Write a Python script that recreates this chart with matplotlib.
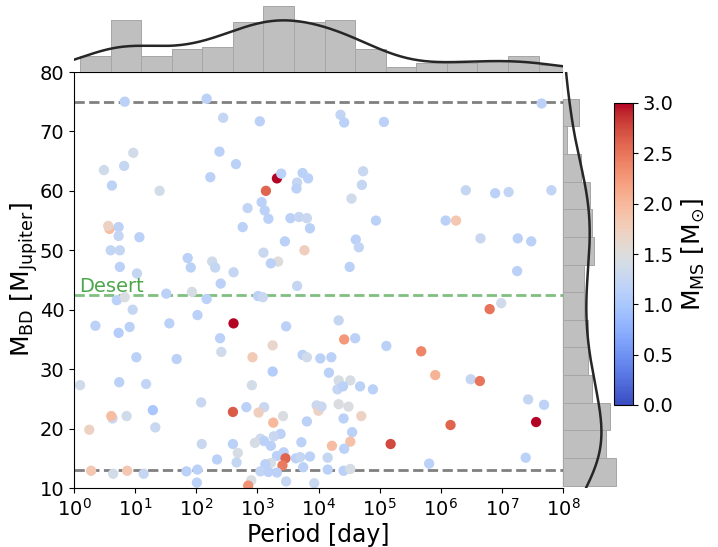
import numpy as np
import matplotlib
matplotlib.use('Agg')
import matplotlib.pyplot as plt

# log10 of the orbital period [day], brown dwarf mass [M_Jup], main-sequence mass [M_sun]
log_period_day = [
    0.83, 2.17, 2.44, 3.04, 0.97, 0.49, 0.82, 2.38, 2.65, 0.62,
    1.40, 2.23, 3.32, 3.39, 3.14, 3.74, 3.65, 3.83, 3.64, 3.07,
    3.12, 3.18, 2.84, 2.76, 3.54, 3.68, 3.81, 3.86, 3.45, 3.10,
    3.77, 3.34, 3.22, 0.58, 0.56, 0.73, 0.73, 1.07, 0.60, 0.75,
    0.75, 1.03, 1.86, 1.91, 2.26, 2.31, 2.61, 2.40, 3.65,
    4.36, 4.42, 5.07, 7.65, 4.73, 4.71, 4.54, 6.41, 6.89, 7.11,
    7.81, 4.94, 6.08, 6.25, 4.61, 4.66, 6.65, 7.26, 7.48, 4.51,
    7.25,
    1.51, 1.93, 0.70, 0.83, 2.17, 3.01, 3.09, 0.96, 2.02, 0.35,
    1.56, 0.73, 0.91, 2.61, 3.47, 2.39, 2.41, 3.25, 2.92, 3.74,
    3.81, 1.02, 1.68, 3.25, 0.10, 0.74, 1.18, 2.91, 2.08, 1.29,
    0.63, 0.61, 0.86, 1.33, 0.25, 2.60, 2.82, 3.11, 3.02, 3.42,
    3.26, 3.97, 4.00, 3.81, 3.38, 3.27, 3.05, 3.11, 2.96, 3.22,
    3.72, 2.09, 2.60, 2.68, 2.34, 2.66, 3.43, 3.32, 3.46, 3.41,
    3.63, 3.70, 3.86, 3.75, 3.22, 3.13, 3.05, 3.18, 3.32, 3.47,
    3.93, 2.90, 2.85, 0.28, 0.64, 0.87, 1.14, 1.84, 2.02, 2.01,
    4.33, 4.42, 4.60, 5.11, 5.68, 5.91, 6.49, 6.64, 6.80, 6.99,
    7.43, 7.69, 7.56, 7.39, 6.16, 5.18, 5.81, 4.03, 4.21, 4.17,
    4.33, 4.52, 4.31, 4.40, 4.68, 4.89, 4.05, 4.33, 4.49, 4.70,
    4.41, 4.55, 4.22, 4.52, 4.42, 4.15, 4.15, 4.41, 4.52,
]
m_bd = [
    75.0, 75.5, 72.3, 71.7, 66.4, 63.5, 64.2, 66.6, 64.5, 60.9,
    60.0, 62.3, 62.1, 62.9, 60.0, 63.0, 61.4, 62.1, 60.4, 58.1,
    56.7, 55.3, 57.1, 53.9, 55.4, 55.6, 55.4, 53.7, 51.5, 49.6,
    50.0, 48.1, 47.8, 53.6, 54.1, 53.9, 52.4, 52.2, 50.0, 50.0,
    47.2, 46.1, 48.7, 47.1, 48.1, 47.1, 46.3, 44.4, 44.0,
    72.8, 71.5, 71.6, 74.7, 63.3, 61.0, 58.7, 60.1, 59.6, 59.8,
    60.1, 55.0, 55.0, 55.0, 51.8, 50.5, 52.0, 52.0, 51.5, 47.2,
    46.5,
    42.7, 43.0, 41.6, 42.1, 41.8, 42.3, 42.1, 40.0, 39.1, 37.3,
    37.7, 36.1, 37.1, 37.7, 37.2, 35.2, 32.9, 34.0, 32.0, 32.4,
    32.0, 32.0, 31.7, 29.6, 27.3, 27.8, 27.5, 27.3, 24.4, 23.1,
    21.7, 22.1, 22.1, 20.2, 19.8, 22.8, 23.6, 23.6, 22.7, 22.1,
    21.0, 23.9, 23.0, 21.2, 19.1, 18.7, 18.3, 17.9, 17.6, 17.1,
    17.7, 17.4, 17.4, 15.9, 14.8, 14.3, 16.0, 15.4, 15.0, 13.8,
    15.0, 15.2, 15.3, 13.5, 14.2, 14.0, 12.8, 12.7, 12.6, 11.1,
    10.8, 11.3, 10.4, 12.9, 12.4, 12.9, 12.4, 12.8, 13.1, 10.9,
    38.2, 35.0, 35.2, 33.9, 33.0, 29.0, 28.3, 28.0, 40.1, 41.1,
    24.9, 24.0, 21.1, 15.1, 20.6, 17.4, 14.1, 31.8, 32.0, 29.4,
    28.1, 28.1, 26.6, 27.1, 27.1, 26.6, 23.7, 24.1, 23.7, 22.1,
    21.7, 19.4, 17.1, 17.8, 16.6, 15.1, 13.1, 12.9, 13.2,
]
m_ms = [
    1.15, 1.15, 1.25, 1.15, 1.38, 1.35, 1.25, 1.15, 1.15, 1.18,
    1.38, 1.15, 3.00, 1.15, 2.60, 1.15, 1.25, 1.15, 1.15, 1.15,
    1.15, 1.15, 1.22, 1.15, 1.15, 1.25, 1.28, 1.15, 1.15, 1.28,
    1.75, 1.50, 1.15, 1.95, 1.70, 1.18, 1.25, 1.15, 1.22, 1.25,
    1.15, 1.25, 1.15, 1.15, 1.35, 1.25, 1.25, 1.15, 1.25,
    1.22, 1.15, 1.15, 1.15, 1.28, 1.25, 1.35, 1.25, 1.15, 1.22,
    1.22, 1.15, 1.15, 1.85, 1.15, 1.22, 1.28, 1.15, 1.15, 1.15,
    1.15,
    1.15, 1.42, 1.15, 1.46, 1.15, 1.15, 1.28, 1.25, 1.15, 1.15,
    1.15, 1.10, 1.15, 3.00, 1.15, 1.15, 1.35, 1.65, 1.80, 1.15,
    1.35, 1.15, 1.15, 1.10, 1.35, 1.15, 1.22, 1.38, 1.28, 1.00,
    1.28, 1.95, 1.35, 1.28, 1.70, 2.65, 1.15, 1.28, 1.75, 1.46,
    2.00, 1.28, 1.70, 1.15, 1.15, 1.28, 1.35, 1.15, 1.42, 1.15,
    1.15, 1.28, 1.15, 1.42, 1.15, 1.25, 1.15, 1.15, 2.60, 2.45,
    1.15, 1.25, 1.15, 1.15, 1.42, 1.15, 1.22, 1.15, 1.15, 1.25,
    1.28, 1.46, 2.30, 1.85, 1.38, 1.85, 1.25, 1.15, 1.15, 1.15,
    1.25, 2.25, 1.15, 1.15, 2.40, 2.05, 1.25, 2.50, 2.50, 1.35,
    1.25, 1.18, 3.00, 1.15, 2.60, 2.75, 1.15, 1.15, 1.15, 1.15,
    1.42, 1.42, 1.25, 1.15, 1.15, 1.15, 1.28, 1.46, 1.46, 1.70,
    1.15, 1.15, 1.95, 1.90, 1.15, 1.25, 1.15, 1.15, 1.42,
]

lower_limit = 13
upper_limit = 75
desert_level = 42.5

log_p = np.array(log_period_day)
period = 10 ** log_p
m_bd = np.array(m_bd)
m_ms = np.array(m_ms)


def kde_counts(values, grid, bin_width):
    # gaussian kde (scott rule) scaled to histogram counts
    n = len(values)
    bw = np.std(values, ddof=1) * n ** (-0.2)
    z = (grid[:, None] - values[None, :]) / bw
    dens = np.exp(-0.5 * z ** 2).sum(axis=1) / (n * bw * np.sqrt(2 * np.pi))
    return dens * n * bin_width


fig = plt.figure(figsize=(7.18, 5.47), dpi=100)
ax = fig.add_axes([74 / 718, 59 / 547, 489 / 718, 416 / 547])
ax_top = fig.add_axes([74 / 718, 475 / 547, 489 / 718, 69 / 547], sharex=ax)
ax_right = fig.add_axes([563 / 718, 59 / 547, 56 / 718, 416 / 547], sharey=ax)
cax = fig.add_axes([614 / 718, 142 / 547, 19 / 718, 302 / 547])

# lines
ax.axhline(upper_limit, color='gray', ls='--', lw=2, zorder=1)
ax.axhline(lower_limit, color='gray', ls='--', lw=2, zorder=1)
ax.axhline(desert_level, color='green', alpha=0.5, ls='--', lw=2, zorder=1)
ax.text(1.2, 43.0, 'Desert', color='green', alpha=0.7, fontsize=14)

sc = ax.scatter(period, m_bd, c=m_ms, cmap='coolwarm', vmin=0, vmax=3,
                s=55, linewidths=0, zorder=2)

ax.set_xscale('log')
ax.set_xlim(1, 1e8)
ax.set_ylim(10, 80)
ax.set_xticks(10.0 ** np.arange(0, 9))
ax.minorticks_off()
ax.tick_params(labelsize=14)
ax.set_xlabel('Period [day]', fontsize=17, labelpad=2.5)
ax.set_ylabel(r'$\mathrm{M_{BD}}$ [$\mathrm{M_{Jupiter}}$]', fontsize=18, labelpad=0)

# marginal histograms
edges_x = np.arange(0.1, 8.15, 0.5)
ax_top.hist(period, bins=10 ** edges_x, color='#bfbfbf', edgecolor='#a6a6a6', linewidth=0.7)
gx = np.linspace(-1, 9, 400)
ax_top.plot(10 ** gx, kde_counts(log_p, gx, 0.5), color='#262626', lw=1.8)

edges_y = np.linspace(m_bd.min(), m_bd.max(), 15)
ax_right.hist(m_bd, bins=edges_y, orientation='horizontal', color='#bfbfbf',
              edgecolor='#a6a6a6', linewidth=0.7)
gy = np.linspace(0, 90, 400)
ax_right.plot(kde_counts(m_bd, gy, edges_y[1] - edges_y[0]), gy, color='#262626', lw=1.8)

for a in (ax_top, ax_right):
    for s in a.spines.values():
        s.set_visible(False)
    a.tick_params(left=False, bottom=False, labelleft=False, labelbottom=False)
ax_top.set_ylim(bottom=0)
ax_right.set_xlim(left=0)

cb = fig.colorbar(sc, cax=cax, ticks=np.arange(0, 3.01, 0.5))
cb.ax.tick_params(labelsize=14)
cb.set_label(r'$\mathrm{M_{MS}}$ [$\mathrm{M_{\odot}}$]', fontsize=18)

fig.savefig('out.png', dpi=100)
